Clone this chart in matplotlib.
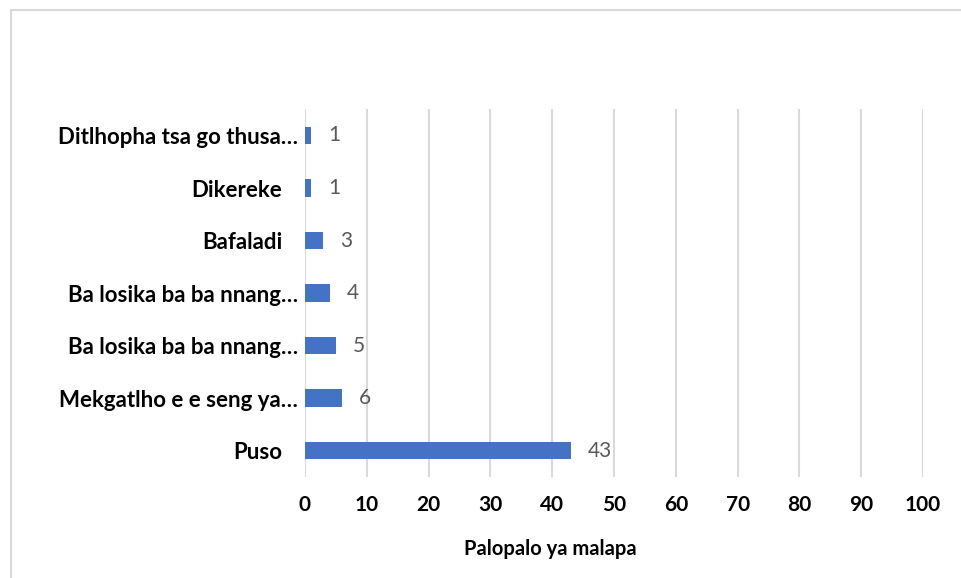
import matplotlib.pyplot as plt
import matplotlib.transforms as mtransforms
from matplotlib.patches import Rectangle

# data (top to bottom as shown)
categories = ["Ditlhopha tsa go thusa…", "Dikereke", "Bafaladi",
              "Ba losika ba ba nnang…", "Ba losika ba ba nnang…",
              "Mekgatlho e e seng ya…", "Puso"]
values = [1, 1, 3, 4, 5, 6, 43]
xticks = list(range(0, 101, 10))

plt.rcParams['font.family'] = ['Lato', 'DejaVu Sans']

fig = plt.figure(figsize=(9.62, 5.78), dpi=100)
ax = fig.add_axes([0.317, 0.175, 0.6425, 0.636])

ypos = list(range(len(categories)))[::-1]
ax.barh(ypos, values, height=0.33, color='#4472C4', zorder=3)

for y, v in zip(ypos, values):
    ax.annotate(str(v), (v, y), xytext=(12, 0), textcoords='offset points',
                ha='left', va='center', fontsize=15, color='#595959')

ax.set_xlim(0, 100)
ax.set_ylim(-0.5, len(categories) - 0.5)
ax.set_xticks(xticks)
ax.set_yticks(ypos)
ax.set_yticklabels(categories)
ax.tick_params(axis='x', length=0, labelsize=15, pad=13)
ax.tick_params(axis='y', length=0, labelsize=16, pad=5)
for lab in ax.get_xticklabels() + ax.get_yticklabels():
    lab.set_fontweight('bold')
# labels that were not cut off sit a bit further left
for lab in ax.get_yticklabels():
    if not lab.get_text().endswith('…'):
        lab.set_transform(lab.get_transform() +
                          mtransforms.ScaledTranslation(-0.16, 0, fig.dpi_scale_trans))

ax.grid(axis='x', color='#d9d9d9', linewidth=1.5, zorder=0)
for s in ax.spines.values():
    s.set_visible(False)

fig.text(550 / 962, 1 - 549 / 578, "Palopalo ya malapa", ha='center', va='center',
         fontsize=14.5, fontweight='bold')

# chart frame
fig.patches.append(Rectangle((11 / 962, -0.1), 1.0, 1 - 10 / 578 + 0.1,
                             transform=fig.transFigure, fill=False,
                             edgecolor='#d9d9d9', linewidth=1.5))

fig.savefig('out.png', dpi=100)
